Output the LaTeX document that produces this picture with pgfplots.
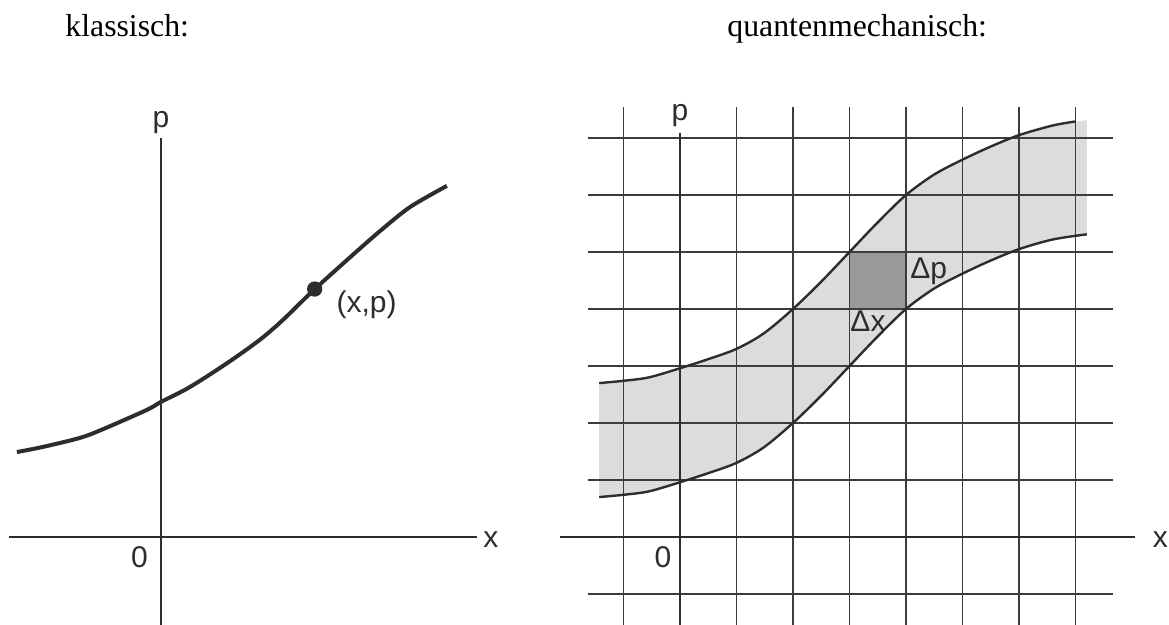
\documentclass[border=0pt]{standalone}
\usepackage{fontspec}
\setmainfont{Liberation Serif}
\newfontfamily\arial{Liberation Sans}
\usepackage{pgfplots}
\pgfplotsset{compat=1.18}
\usepgfplotslibrary{fillbetween}
\definecolor{ink}{RGB}{45,45,45}
\definecolor{gridc}{RGB}{60,60,60}
\definecolor{band}{RGB}{220,220,220}
\definecolor{cell}{RGB}{153,153,153}
\begin{document}
\begin{tikzpicture}[x=1pt,y=1pt]
\tikzset{lab/.style={font=\arial\fontsize{15}{18}\selectfont, text=ink, inner sep=0pt},
         ttl/.style={font=\fontsize{15.9}{19}\selectfont, inner sep=0pt, anchor=base west}}
\node[ttl] at (32.5,294) {klassisch:};
\node[ttl] at (363.5,294) {quantenmechanisch:};

% ---------------- left panel ----------------
\begin{axis}[hide axis, x=28.25pt, y=28.5pt,
  xmin=-2.69, xmax=5.59, ymin=-1.54, ymax=7.0,
  clip=false, anchor=south west,
  at={(4.51pt,0.11pt)}]
\draw[ink, line width=1pt] (axis cs:-2.69,0) -- (axis cs:5.59,0);
\draw[ink, line width=1pt] (axis cs:0,-1.54) -- (axis cs:0,7.0);
\addplot[smooth, ink, line width=2pt] coordinates {
 (-2.55,1.49) (-2.09,1.58) (-1.43,1.74) (-1.03,1.89) (-0.25,2.23) (0,2.37)
 (0.51,2.63) (1.17,3.05) (1.75,3.46) (2.16,3.81) (2.69,4.32) (3.35,4.91)
 (3.88,5.37) (4.41,5.79) (5.06,6.16)};
\addplot[only marks, mark=*, mark size=3.6pt, color=ink] coordinates {(2.72,4.35)};
\node[lab, anchor=base west] at (axis cs:3.10,3.93) {(x,p)};
\node[lab, anchor=center] at (axis cs:5.84,-0.05) {x};
\node[lab, anchor=base] at (axis cs:0,7.19) {p};
\node[lab, anchor=center] at (axis cs:-0.38,-0.35) {0};
\end{axis}

% ---------------- right panel ----------------
\begin{axis}[hide axis, x=28.25pt, y=28.5pt,
  xmin=-2.12, xmax=8.05, ymin=-1.54, ymax=7.09,
  clip=false, anchor=south west,
  at={(280.11pt,0.11pt)}]
\addplot[draw=none, name path=L, smooth] coordinates {
 (-1.43,0.70) (-1,0.74) (-0.55,0.80) (0,0.96) (0.5,1.12) (1,1.3) (1.48,1.57)
 (2,2) (2.5,2.48) (3,3) (3.5,3.52) (4,4) (4.5,4.36) (5,4.62) (5.5,4.85)
 (6,5.05) (6.6,5.22) (7.2,5.31)};
\addplot[draw=none, name path=U, smooth] coordinates {
 (-1.43,2.70) (-1,2.74) (-0.55,2.80) (0,2.96) (0.5,3.12) (1,3.3) (1.48,3.57)
 (2,4) (2.5,4.48) (3,5) (3.5,5.52) (4,6) (4.5,6.36) (5,6.62) (5.5,6.85)
 (6,7.05) (6.6,7.22) (7.0,7.29) (7.2,7.31)};
\addplot[band, draw=none] fill between[of=U and L];
\addplot[fill=cell, draw=none] coordinates {(3,4) (4,4) (4,5) (3,5) (3,4)};
\pgfplotsinvokeforeach{-1,1,2,3,4,5,6,7}{
  \draw[gridc, line width=0.8pt] (axis cs:#1,-1.54) -- (axis cs:#1,7.55);
  \draw[gridc, line width=0.8pt] (axis cs:-1.62,#1) -- (axis cs:7.67,#1);
}
\draw[ink, line width=1.2pt] (axis cs:-2.12,0) -- (axis cs:8.05,0);
\draw[ink, line width=1.2pt] (axis cs:0,-1.54) -- (axis cs:0,7.09);
\addplot[smooth, ink, line width=1.2pt] coordinates {
 (-1.43,0.70) (-1,0.74) (-0.55,0.80) (0,0.96) (0.5,1.12) (1,1.3) (1.48,1.57)
 (2,2) (2.5,2.48) (3,3) (3.5,3.52) (4,4) (4.5,4.36) (5,4.62) (5.5,4.85)
 (6,5.05) (6.6,5.22) (7.2,5.31)};
\addplot[smooth, ink, line width=1.2pt] coordinates {
 (-1.43,2.70) (-1,2.74) (-0.55,2.80) (0,2.96) (0.5,3.12) (1,3.3) (1.48,3.57)
 (2,4) (2.5,4.48) (3,5) (3.5,5.52) (4,6) (4.5,6.36) (5,6.62) (5.5,6.85)
 (6,7.05) (6.6,7.22) (7.0,7.29)};
\node[lab, anchor=base west] at (axis cs:4.07,4.54) {Δp};
\node[lab, anchor=base west] at (axis cs:3.01,3.61) {Δx};
\node[lab, anchor=center] at (axis cs:8.5,-0.05) {x};
\node[lab, anchor=base] at (axis cs:0,7.30) {p};
\node[lab, anchor=center] at (axis cs:-0.30,-0.35) {0};
\end{axis}
\pgfresetboundingbox
\path[use as bounding box] (0,0) rectangle (584.5,312.5);
\end{tikzpicture}
\end{document}
